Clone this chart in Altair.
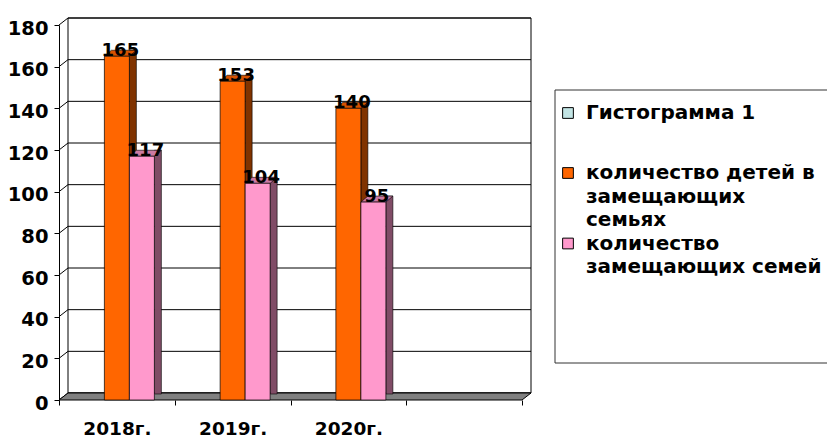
import altair as alt
import pandas as pd

# ---------------- data ----------------
categories = ["2018г.", "2019г.", "2020г."]
slots = ["2018г.", "2019г.", "2020г.", " "]          # 4th empty category slot
children = [165, 153, 140]      # количество детей в замещающих семьях
families = [117, 104, 95]       # количество замещающих семей
y_ticks = [0, 20, 40, 60, 80, 100, 120, 140, 160, 180]
series_names = ["Гистограмма 1",
                "количество детей в замещающих семьях",
                "количество замещающих семей"]

df = pd.DataFrame({"cat": categories, "children": children, "families": families})
grid = pd.DataFrame({"v": y_ticks})
one = pd.DataFrame({"k": [0]})

# ---------------- layout / style ----------------
W, H = 463, 375
DX, DY = 9, 7          # depth of walls / floor
BD, BDY = 7, 6         # depth of bars
BW = 25                # bar width
FONT = "DejaVu Sans"

xs = alt.Scale(domain=slots, paddingInner=0, paddingOuter=0)
ys = alt.Scale(domain=[0, 180], nice=False)

x_axis = alt.Axis(title=None, domain=False, tickColor="black", tickSize=5,
                  tickBand="extent", labelAngle=0, labelFont=FONT,
                  labelFontSize=18.5, labelFontWeight="bold", labelColor="black",
                  labelPadding=14)
y_axis = alt.Axis(title=None, values=y_ticks, grid=False, domain=True,
                  domainColor="black", tickColor="black", tickSize=5,
                  labelFont=FONT, labelFontSize=19.5, labelFontWeight="bold",
                  labelColor="black", labelPadding=6, labelOffset=3)

X = alt.X("cat:N", scale=xs, axis=x_axis)

layers = []

# back wall
layers.append(
    alt.Chart(one).mark_rect(fill="white", stroke="black", strokeWidth=1,
                             yOffset=-DY, y2Offset=-DY)
    .encode(x=alt.value(DX), x2=alt.value(W + DX),
            y=alt.YDatum(180, type="quantitative", scale=ys, axis=y_axis),
            y2=alt.datum(0))
)
# side-wall diagonals
layers.append(
    alt.Chart(grid).mark_rule(color="black", strokeWidth=1, y2Offset=-DY)
    .encode(x=alt.value(0), x2=alt.value(DX),
            y=alt.Y("v:Q", scale=ys, axis=y_axis), y2="v:Q")
)
# back-wall gridlines
layers.append(
    alt.Chart(grid).mark_rule(color="black", strokeWidth=1, yOffset=-DY)
    .encode(x=alt.value(DX), x2=alt.value(W + DX),
            y=alt.Y("v:Q", scale=ys, axis=y_axis))
)
# floor
layers.append(
    alt.Chart(one).mark_point(shape=f"M0,0L{W},0L{W+DX},{-DY}L{DX},{-DY}Z",
                              size=4, filled=True, fill="#808080",
                              stroke="black", strokeWidth=1, opacity=1)
    .encode(x=alt.value(0),
            y=alt.YDatum(0, type="quantitative", scale=ys, axis=y_axis))
)

series = [
    ("children", 0, "#FF6600", "#D65200", "#803300"),
    ("families", BW, "#FF99CC", "#CC7AA3", "#804C66"),
]
top_shape = f"M{-BW/2},0L{BW/2},0L{BW/2+BD},{-BDY}L{-BW/2+BD},{-BDY}Z"

for field, off, col, topc, sidec in series:
    Y = alt.Y(f"{field}:Q", scale=ys, axis=y_axis)
    layers.append(
        alt.Chart(df).mark_bar(width=BD, fill=sidec, stroke="black", strokeWidth=0.6,
                               xOffset=off + BW / 2 + BD / 2,
                               yOffset=-BDY, y2Offset=-BDY)
        .encode(x=X, y=Y, y2=alt.datum(0))
    )
    layers.append(
        alt.Chart(df).mark_point(shape=top_shape, size=4, filled=True, fill=topc,
                                 stroke="black", strokeWidth=0.6, opacity=1,
                                 xOffset=off)
        .encode(x=X, y=Y)
    )
    layers.append(
        alt.Chart(df).mark_bar(width=BW, fill=col, stroke="black", strokeWidth=0.7,
                               xOffset=off)
        .encode(x=X, y=Y, y2=alt.datum(0))
    )

for field, off, *_ in series:
    layers.append(
        alt.Chart(df).mark_text(font=FONT, fontSize=18, fontWeight="bold",
                                color="black", baseline="alphabetic", align="center",
                                xOffset=off + BD / 2)
        .encode(x=X, y=alt.Y(f"{field}:Q", scale=ys, axis=y_axis),
                text=f"{field}:Q")
    )

# ---------------- legend ----------------
layers.append(
    alt.Chart(one).mark_rect(fill="white", stroke="#333333", strokeWidth=1)
    .encode(x=alt.value(496), x2=alt.value(800), y=alt.value(65), y2=alt.value(338))
)
legend_colors = ["#C2E4E4", "#FF6600", "#FF99CC"]
legend_lines = [
    ["Гистограмма 1"],
    ["количество детей в", "замещающих", "семьях"],
    ["количество", "замещающих семей"],
]
legend_y = [88, 148, 218.5]
LH = 23.5
for name, lines, c, y0 in zip(series_names, legend_lines, legend_colors, legend_y):
    layers.append(
        alt.Chart(one).mark_point(shape="square", size=115, filled=True, fill=c,
                                  stroke="black", strokeWidth=1, opacity=1)
        .encode(x=alt.value(509), y=alt.value(y0))
    )
    for i, line in enumerate(lines):
        layers.append(
            alt.Chart(one).mark_text(text=line, font=FONT, fontSize=20,
                                     fontWeight="bold", color="black",
                                     align="left", baseline="middle")
            .encode(x=alt.value(527), y=alt.value(y0 + i * LH))
        )

chart = (
    alt.layer(*layers)
    .properties(width=W, height=H,
                padding={"left": 59, "top": 25, "right": 305, "bottom": 38},
                autosize=alt.AutoSizeParams(type="none"),
                background="white")
    .configure_view(stroke=None)
)

chart.save("out.html", embed_options={"renderer": "svg", "actions": False})
